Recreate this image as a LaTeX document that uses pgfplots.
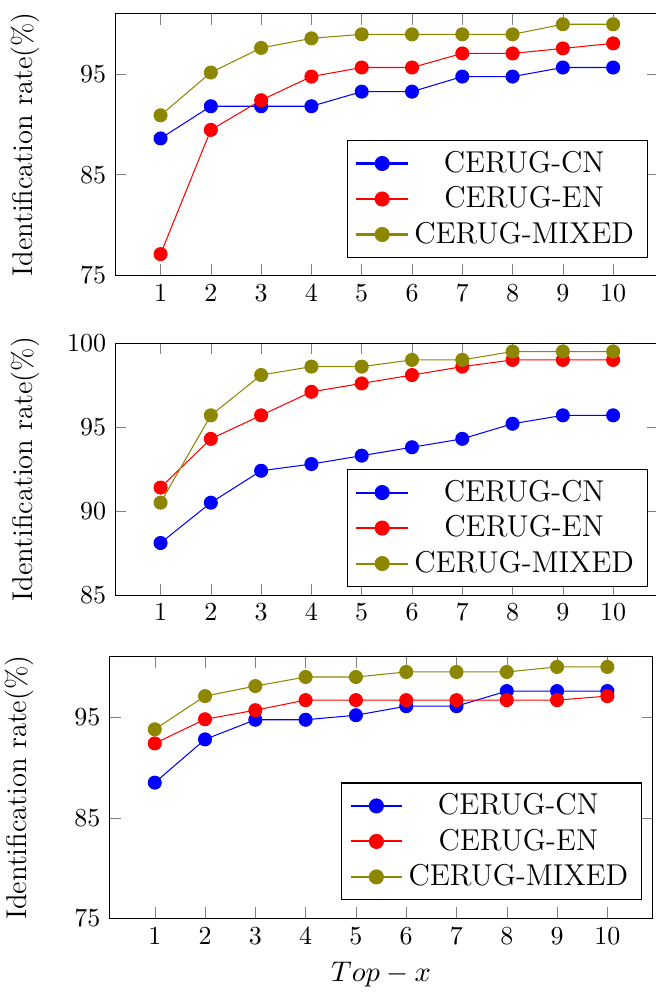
\documentclass[border=0pt]{standalone}
\usepackage{pgfplots}
\pgfplotsset{compat=1.18}
\pgfplotsset{
  myaxis/.style={
    scale only axis,
    width=209.1pt,
    xmin=0.1, xmax=10.9,
    xtick={1,2,3,4,5,6,7,8,9,10},
    ylabel={Identification rate(\%)},
    xlabel style={font=\fontsize{11}{13}\selectfont},
    every axis y label/.style={at={(axis description cs:-0.1657,0.5)},rotate=90,anchor=center,font=\fontsize{11}{13}\selectfont},
    legend cell align=center,
    legend style={font=\fontsize{11.6}{14}\selectfont, anchor=south east},
    legend image code/.code={%
      \draw[mark repeat=2,mark phase=2,line width=0.8pt] plot coordinates {(0cm,0cm) (0.35cm,0cm) (0.7cm,0cm)};},
    every axis plot/.append style={mark=*, mark size=2.5pt},
  }
}
\begin{document}
\begin{tikzpicture}
\clip (0,0) rectangle (252.56pt,-383.85pt);
% Panel 1
\begin{axis}[myaxis, at={(44.39pt,-5.27pt)}, anchor=north west, height=100.7pt,
  ymin=75, ymax=101, ytick={75,85,95}, legend style={at={(0.98,0.066)}}]
\addplot[blue, mark=*] coordinates {(1,88.6)(2,91.8)(3,91.8)(4,91.8)(5,93.25)(6,93.25)(7,94.75)(8,94.75)(9,95.65)(10,95.65)};
\addplot[red, mark=*] coordinates {(1,77.1)(2,89.45)(3,92.4)(4,94.75)(5,95.65)(6,95.65)(7,97.05)(8,97.05)(9,97.55)(10,98.05)};
\addplot[olive, mark=*] coordinates {(1,90.9)(2,95.15)(3,97.6)(4,98.55)(5,98.95)(6,98.95)(7,98.95)(8,98.95)(9,99.95)(10,99.95)};
\legend{CERUG-CN,CERUG-EN,CERUG-MIXED}
\end{axis}
% Panel 2
\begin{axis}[myaxis, at={(44.39pt,-132.1pt)}, anchor=north west, height=97.0pt,
  ymin=85, ymax=100, ytick={85,90,95,100}, legend style={at={(0.98,0.032)}}]
\addplot[blue, mark=*] coordinates {(1,88.1)(2,90.5)(3,92.4)(4,92.8)(5,93.3)(6,93.8)(7,94.3)(8,95.2)(9,95.7)(10,95.7)};
\addplot[red, mark=*] coordinates {(1,91.4)(2,94.3)(3,95.7)(4,97.1)(5,97.6)(6,98.1)(7,98.6)(8,99.0)(9,99.0)(10,99.0)};
\addplot[olive, mark=*] coordinates {(1,90.5)(2,95.7)(3,98.1)(4,98.6)(5,98.6)(6,99.0)(7,99.0)(8,99.5)(9,99.5)(10,99.5)};
\legend{CERUG-CN,CERUG-EN,CERUG-MIXED}
\end{axis}
% Panel 3
\begin{axis}[myaxis, at={(42.16pt,-252.9pt)}, anchor=north west, height=100.7pt,
  ymin=75, ymax=101, ytick={75,85,95}, xlabel={$Top-x$}, legend style={at={(0.98,0.069)}}]
\addplot[blue, mark=*] coordinates {(1,88.5)(2,92.8)(3,94.75)(4,94.75)(5,95.2)(6,96.1)(7,96.1)(8,97.6)(9,97.6)(10,97.6)};
\addplot[red, mark=*] coordinates {(1,92.4)(2,94.8)(3,95.7)(4,96.7)(5,96.7)(6,96.7)(7,96.7)(8,96.7)(9,96.7)(10,97.1)};
\addplot[olive, mark=*] coordinates {(1,93.8)(2,97.1)(3,98.1)(4,99.0)(5,99.0)(6,99.5)(7,99.5)(8,99.5)(9,100.0)(10,100.0)};
\legend{CERUG-CN,CERUG-EN,CERUG-MIXED}
\end{axis}
\end{tikzpicture}
\end{document}
